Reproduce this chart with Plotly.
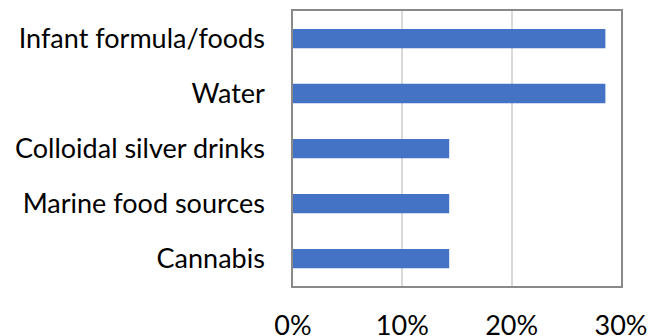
import plotly.graph_objects as go

categories = ["Infant formula/foods", "Water", "Colloidal silver drinks",
              "Marine food sources", "Cannabis"]
shares = [2 / 7, 2 / 7, 1 / 7, 1 / 7, 1 / 7]
tick_vals = [0, 0.1, 0.2, 0.3]
tick_text = ["0%", "10%", "20%", "30%"]

fig = go.Figure(
    go.Bar(
        x=shares,
        y=categories,
        orientation="h",
        width=0.35,
        marker=dict(color="#4472C4", line=dict(width=0)),
    )
)

font = dict(family="Lato", size=27, color="#000000")

fig.update_layout(
    width=657,
    height=336,
    margin=dict(l=293, r=36, t=11, b=50, autoexpand=False),
    paper_bgcolor="white",
    plot_bgcolor="white",
    showlegend=False,
    font=font,
    xaxis=dict(
        range=[0, 0.3],
        tickvals=tick_vals,
        ticktext=tick_text,
        showgrid=True,
        gridcolor="#D9D9D9",
        gridwidth=1.5,
        zeroline=False,
        showline=True,
        mirror=True,
        linecolor="#898989",
        linewidth=1.5,
        ticks="",
        ticklabelstandoff=15,
        tickfont=font,
        automargin=False,
    ),
    yaxis=dict(
        categoryorder="array",
        categoryarray=categories[::-1],
        showgrid=False,
        zeroline=False,
        showline=True,
        mirror=True,
        linecolor="#898989",
        linewidth=1.5,
        ticks="",
        ticklabelstandoff=21,
        tickfont=font,
        automargin=False,
    ),
)

fig.write_html("out.html")
